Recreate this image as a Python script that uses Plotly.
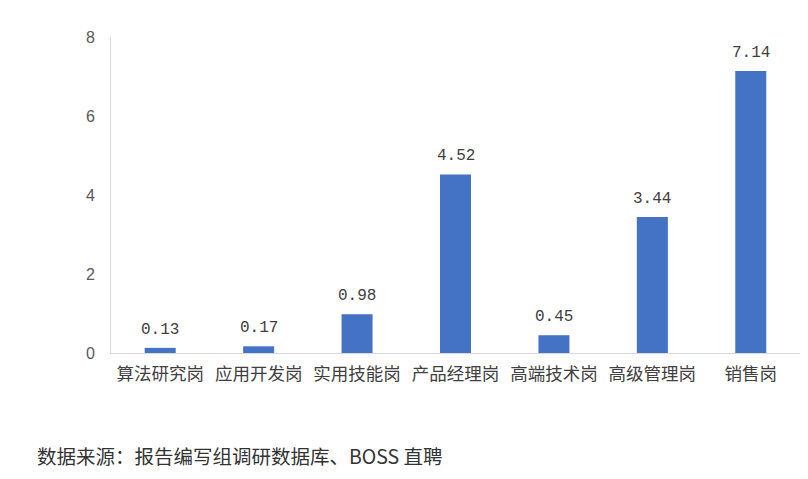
import plotly.graph_objects as go

categories = ["算法研究岗", "应用开发岗", "实用技能岗", "产品经理岗", "高端技术岗", "高级管理岗", "销售岗"]
values = [0.13, 0.17, 0.98, 4.52, 0.45, 3.44, 7.14]
y_ticks = [0, 2, 4, 6, 8]
source_text = "数据来源：报告编写组调研数据库、BOSS 直聘"

# page body has an 8px margin, so the figure is sized/offset to compensate
W, H = 800, 471
L, R, T, B = 103, 8, 29, 126
plot_w = W - L - R
plot_h = H - T - B

fig = go.Figure()
fig.add_trace(go.Bar(
    x=categories, y=values,
    marker=dict(color="#4472C4", line=dict(width=0)),
    width=0.315,
))

label_annotations = [
    dict(x=c, y=v, xref="x", yref="y", text=f"{v:.2f}", showarrow=False,
         yanchor="bottom", yshift=7,
         font=dict(family="Liberation Mono, monospace", size=16, color="#404040"))
    for c, v in zip(categories, values)
]

fig.update_layout(
    width=W, height=H,
    margin=dict(l=L, r=R, t=T, b=B),
    paper_bgcolor="white", plot_bgcolor="white",
    showlegend=False,
    xaxis=dict(
        showline=True, linecolor="#D9D9D9", linewidth=1,
        ticks="", showgrid=False, ticklabelstandoff=5,
        tickfont=dict(family="Noto Sans CJK SC", size=17.5, color="#404040"),
    ),
    yaxis=dict(
        range=[0, 8], tickvals=y_ticks, showgrid=False, zeroline=False,
        showline=True, linecolor="#D9D9D9", linewidth=1,
        ticks="", ticklabelstandoff=12,
        tickfont=dict(family="Liberation Sans, Arial", size=16, color="#595959"),
    ),
    annotations=label_annotations + [dict(
        text=source_text, xref="paper", yref="paper",
        x=(35 - 8 - L) / plot_w, y=-(455 - 353) / plot_h, xanchor="left", yanchor="middle",
        showarrow=False,
        font=dict(family="Noto Sans CJK SC", size=19.5, color="#333333"),
    )],
)

fig.write_html("out.html")
